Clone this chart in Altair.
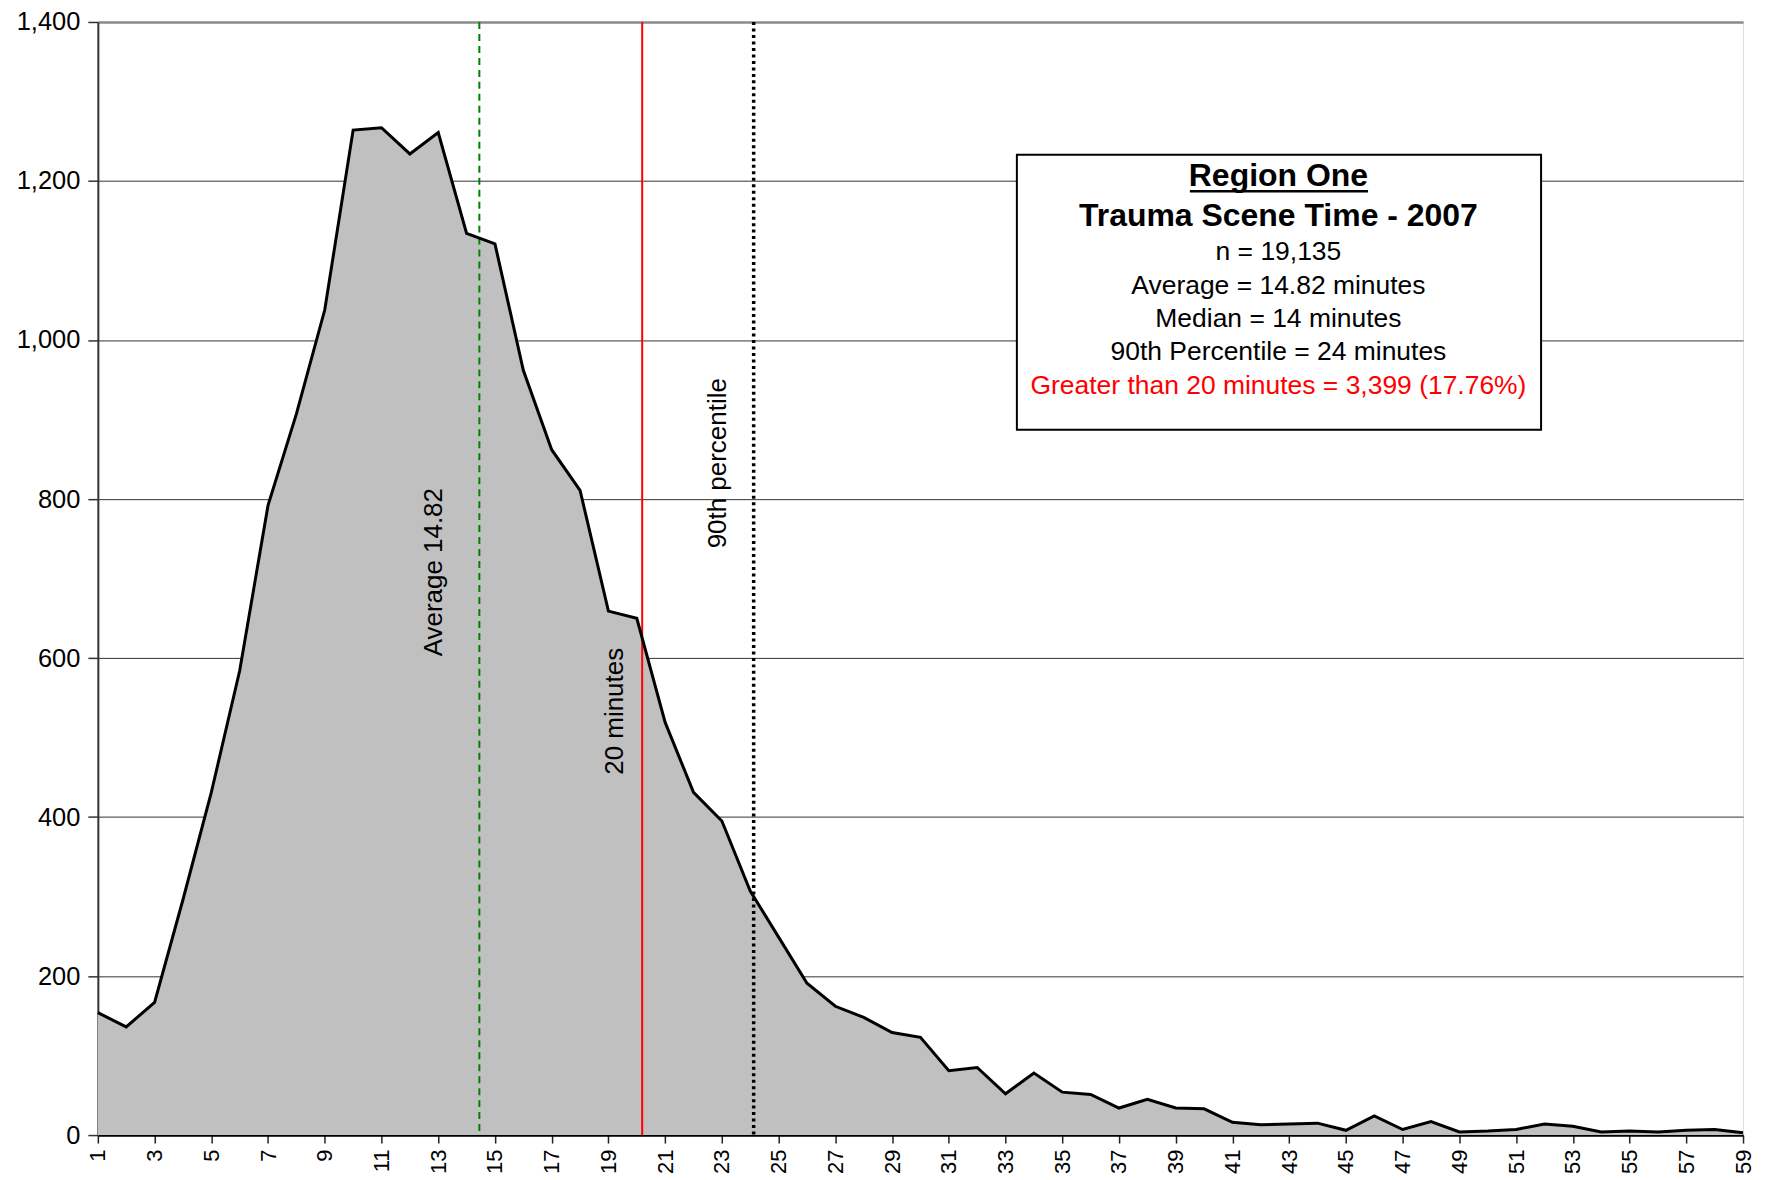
import altair as alt
import pandas as pd

# ---- data ----
minutes = list(range(1, 60))
counts = [154, 136, 167, 296, 431, 584, 792, 907, 1038, 1264,
          1267, 1234, 1261, 1134, 1121, 962, 862, 811, 659, 650,
          519, 431, 395, 307, 249, 191, 162, 148, 129, 123,
          81, 85, 52, 78, 54, 51, 34, 45, 34, 33,
          16, 13, 14, 15, 6, 24, 7, 17, 4, 5,
          7, 14, 11, 4, 5, 4, 6, 7, 3]

ref_line_names = ["Average 14.82", "20 minutes", "90th percentile"]
ref_line_pos = [14.45, 20.19, 24.12]

box_lines = ["Region One", "Trauma Scene Time - 2007", "n = 19,135",
             "Average = 14.82 minutes", "Median = 14 minutes",
             "90th Percentile = 24 minutes",
             "Greater than 20 minutes = 3,399 (17.76%)"]

y_ticks = [0, 200, 400, 600, 800, 1000, 1200, 1400]

# ---- layout (data coordinates for annotations) ----
FONT = "Liberation Sans"
W, H = 1648, 1115
xscale = alt.Scale(domain=[1, 59], nice=False, zero=False, padding=0)
yscale = alt.Scale(domain=[0, 1400], nice=False, zero=True)

df = pd.DataFrame({"minute": minutes, "count": counts})

base = alt.Chart(df)

area = base.mark_area(color="#C0C0C0", opacity=1).encode(
    x=alt.X("minute:Q", scale=xscale,
            axis=alt.Axis(title=None, values=minutes,
                          labelExpr="datum.value % 2 == 1 ? datum.label : ''",
                          labelAngle=270, labelFontSize=22, labelColor="black",
                          labelPadding=6, tickSize=8, tickColor="#222222",
                          tickWidth=1.5, domainColor="black", domainWidth=2.5,
                          grid=False, labelFont=FONT)),
    y=alt.Y("count:Q", scale=yscale,
            axis=alt.Axis(title=None, values=y_ticks, format=",d",
                          labelFontSize=25.5, labelColor="black", labelPadding=8,
                          tickSize=10, tickColor="#333333", tickWidth=1.5,
                          domainColor="#333333", domainWidth=2,
                          grid=True,
                          gridColor={"condition": {"test": "datum.value === 1400",
                                                   "value": "#8a8a8a"},
                                     "value": "#333333"},
                          gridWidth={"condition": {"test": "datum.value === 1400",
                                                   "value": 2.5},
                                     "value": 1},
                          labelFont=FONT)),
)

line = base.mark_line(color="black", strokeWidth=3).encode(
    x=alt.X("minute:Q", scale=xscale),
    y=alt.Y("count:Q", scale=yscale),
)

rdf = pd.DataFrame({"name": ref_line_names, "pos": ref_line_pos})

green = alt.Chart(rdf[rdf.name == ref_line_names[0]]).mark_rule(
    color="#008000", strokeWidth=2, strokeDash=[7, 5]).encode(
    x=alt.X("pos:Q", scale=xscale))
red = alt.Chart(rdf[rdf.name == ref_line_names[1]]).mark_rule(
    color="#FF0000", strokeWidth=2).encode(
    x=alt.X("pos:Q", scale=xscale))
black = alt.Chart(rdf[rdf.name == ref_line_names[2]]).mark_rule(
    color="black", strokeWidth=3.5, strokeDash=[3, 3.5]).encode(
    x=alt.X("pos:Q", scale=xscale))

# rotated labels beside the reference lines
lab_df = pd.DataFrame({"name": ref_line_names,
                       "lx": [12.84, 19.24, 22.85],
                       "ly": [708, 533, 845]})
vlabels = alt.Chart(lab_df).mark_text(
    angle=270, align="center", baseline="middle", fontSize=26,
    font=FONT, color="black").encode(
    x=alt.X("lx:Q", scale=xscale), y=alt.Y("ly:Q", scale=yscale),
    text="name:N")

# info box
box = alt.Chart(pd.DataFrame({"x1": [33.40], "x2": [51.88],
                              "y1": [887], "y2": [1233]})).mark_rect(
    fill="white", stroke="black", strokeWidth=2).encode(
    x=alt.X("x1:Q", scale=xscale), x2="x2:Q",
    y=alt.Y("y1:Q", scale=yscale), y2="y2:Q")

box_y = [1206, 1156, 1111, 1068, 1026, 985, 942]
bdf = pd.DataFrame({"text": box_lines, "ty": box_y, "tx": [42.62] * 7})

title_txt = alt.Chart(bdf.iloc[0:2]).mark_text(
    fontSize=32, fontWeight="bold", font=FONT, color="black",
    align="center", baseline="middle").encode(
    x=alt.X("tx:Q", scale=xscale), y=alt.Y("ty:Q", scale=yscale), text="text:N")
body_txt = alt.Chart(bdf.iloc[2:6]).mark_text(
    fontSize=26.5, font=FONT, color="black",
    align="center", baseline="middle").encode(
    x=alt.X("tx:Q", scale=xscale), y=alt.Y("ty:Q", scale=yscale), text="text:N")
red_txt = alt.Chart(bdf.iloc[6:7]).mark_text(
    fontSize=26.5, font=FONT, color="#FF0000",
    align="center", baseline="middle").encode(
    x=alt.X("tx:Q", scale=xscale), y=alt.Y("ty:Q", scale=yscale), text="text:N")

underline = alt.Chart(pd.DataFrame({"u1": [39.50], "u2": [45.78], "uy": [1187]})).mark_rule(
    color="black", strokeWidth=2.5).encode(
    x=alt.X("u1:Q", scale=xscale), x2="u2:Q", y=alt.Y("uy:Q", scale=yscale))

chart = alt.layer(area, green, red, black, line, vlabels, box,
                  title_txt, body_txt, red_txt, underline).properties(
    width=W, height=H,
    autosize=alt.AutoSizeParams(type="none"),
    padding={"left": 90, "top": 13, "right": 20, "bottom": 40},
).configure_view(stroke="#8a8a8a", strokeWidth=2.5).configure(font=FONT)

chart.save("out.html", embed_options={"renderer": "svg", "actions": False})
